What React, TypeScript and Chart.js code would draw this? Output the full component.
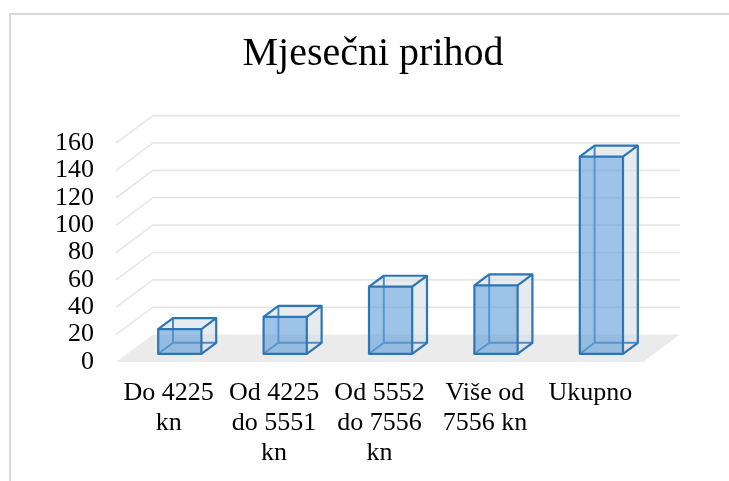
import React, { useEffect, useRef } from "react";
import { Chart, registerables } from "chart.js";

Chart.register(...registerables);

const categories: string[][] = [
  ["Do 4225", "kn"],
  ["Od 4225", "do 5551", "kn"],
  ["Od 5552", "do 7556", "kn"],
  ["Više od", "7556 kn"],
  ["Ukupno"],
];
const values: number[] = [18, 27, 49, 50, 144];
const yMin = 0;
const yMax = 160;
const yStep = 20;
const titleText = "Mjesečni prihod";

const SERIF = '"Liberation Serif", "Times New Roman", serif';
const DX = 37;
const DY = 27.4;
const D_FRONT = 0.3;
const D_BACK = 0.7;

const threeD = {
  id: "threeD",
  beforeDraw(chart: any) {
    const ctx = chart.ctx;
    ctx.save();
    ctx.fillStyle = "#ffffff";
    ctx.fillRect(0, 0, chart.width, chart.height);
    ctx.strokeStyle = "#d9d9d9";
    ctx.lineWidth = 2;
    ctx.strokeRect(10, 14, chart.width + 50, chart.height + 50);
    ctx.restore();
  },
  beforeDatasetsDraw(chart: any) {
    const ctx = chart.ctx;
    const { left, right, bottom } = chart.chartArea;
    const ys = chart.scales.y;
    ctx.save();
    // floor
    ctx.fillStyle = "#ebebeb";
    ctx.beginPath();
    ctx.moveTo(left, bottom);
    ctx.lineTo(left + DX, bottom - DY);
    ctx.lineTo(right + DX, bottom - DY);
    ctx.lineTo(right, bottom);
    ctx.closePath();
    ctx.fill();
    // grid lines (side + back wall)
    ctx.strokeStyle = "#e6e6e6";
    ctx.lineWidth = 1.6;
    ys.ticks.forEach((t: any) => {
      if (t.value === yMin) return;
      const yv = ys.getPixelForValue(t.value);
      ctx.beginPath();
      ctx.moveTo(left, yv);
      ctx.lineTo(left + DX, yv - DY);
      ctx.lineTo(right + DX, yv - DY);
      ctx.stroke();
    });
    ctx.restore();
  },
  afterDatasetsDraw(chart: any) {
    const ctx = chart.ctx;
    const meta = chart.getDatasetMeta(0);
    ctx.save();
    ctx.lineJoin = "round";
    meta.data.forEach((el: any) => {
      const p = el.getProps(["x", "y", "base", "width"], true);
      const hw = p.width / 2;
      const fx = D_FRONT * DX, fy = D_FRONT * DY;
      const bx = D_BACK * DX, by = D_BACK * DY;
      const x0f = p.x - hw + fx, x1f = p.x + hw + fx;
      const yTf = p.y - fy, yBf = p.base - fy;
      const x0b = p.x - hw + bx, x1b = p.x + hw + bx;
      const yTb = p.y - by, yBb = p.base - by;

      // side face
      ctx.fillStyle = "rgba(214,222,230,0.6)";
      ctx.beginPath();
      ctx.moveTo(x1f, yTf);
      ctx.lineTo(x1b, yTb);
      ctx.lineTo(x1b, yBb);
      ctx.lineTo(x1f, yBf);
      ctx.closePath();
      ctx.fill();
      // top face
      ctx.beginPath();
      ctx.moveTo(x0f, yTf);
      ctx.lineTo(x0b, yTb);
      ctx.lineTo(x1b, yTb);
      ctx.lineTo(x1f, yTf);
      ctx.closePath();
      ctx.fill();
      // hidden edges
      ctx.strokeStyle = "#4a8ccc";
      ctx.lineWidth = 2;
      ctx.beginPath();
      ctx.moveTo(x0b, yTb);
      ctx.lineTo(x0b, yBb);
      ctx.lineTo(x1b, yBb);
      ctx.moveTo(x0f, yBf);
      ctx.lineTo(x0b, yBb);
      ctx.stroke();
      // front face
      ctx.fillStyle = "rgba(91,155,213,0.6)";
      ctx.fillRect(x0f, yTf, x1f - x0f, yBf - yTf);
      // visible edges
      ctx.strokeStyle = "#2e75b6";
      ctx.lineWidth = 2.2;
      ctx.strokeRect(x0f, yTf, x1f - x0f, yBf - yTf);
      ctx.beginPath();
      ctx.moveTo(x0f, yTf);
      ctx.lineTo(x0b, yTb);
      ctx.lineTo(x1b, yTb);
      ctx.lineTo(x1f, yTf);
      ctx.moveTo(x1b, yTb);
      ctx.lineTo(x1b, yBb);
      ctx.lineTo(x1f, yBf);
      ctx.stroke();
    });
    ctx.restore();
  },
};

export default function App() {
  const ref = useRef<HTMLCanvasElement | null>(null);
  useEffect(() => {
    if (!ref.current) return;
    const chart = new Chart(ref.current, {
      type: "bar",
      data: {
        labels: categories,
        datasets: [
          {
            data: values,
            backgroundColor: "rgba(0,0,0,0)",
            borderWidth: 0,
            categoryPercentage: 1,
            barPercentage: 0.41,
            yAxisID: "y",
          },
        ],
      },
      options: {
        responsive: false,
        animation: false,
        events: [],
        layout: { padding: { left: 17, right: 0, top: 0, bottom: 0 } },
        plugins: {
          legend: { display: false },
          tooltip: { enabled: false },
          title: {
            display: true,
            text: titleText,
            color: "#000000",
            font: { family: SERIF, size: 40, weight: "normal", lineHeight: 1.2 },
            padding: { top: 30.5, bottom: 64.5 },
          },
        },
        scales: {
          x: {
            grid: { display: false, drawTicks: false },
            border: { display: false },
            ticks: {
              color: "#000000",
              font: { family: SERIF, size: 26, lineHeight: 1.154 },
              padding: 16,
              maxRotation: 0,
              autoSkip: false,
            },
            afterFit: (s: any) => {
              s.height = 119;
            },
          },
          y: {
            min: yMin,
            max: yMax,
            grid: { display: false, drawTicks: false },
            border: { display: false },
            ticks: {
              stepSize: yStep,
              autoSkip: false,
              color: "#000000",
              font: { family: SERIF, size: 26 },
              padding: 22,
            },
            afterFit: (s: any) => {
              s.width = 99;
            },
          },
          yRight: {
            position: "right",
            display: true,
            min: yMin,
            max: yMax,
            grid: { display: false, drawTicks: false },
            border: { display: false },
            ticks: { display: false },
            afterFit: (s: any) => {
              s.width = 86;
            },
          },
        },
      },
      plugins: [threeD],
    } as any);
    return () => chart.destroy();
  }, []);
  return (
    <div style={{ position: "absolute", left: 0, top: 0, width: 729, height: 481 }}>
      <canvas ref={ref} width={729} height={481} />
    </div>
  );
}
